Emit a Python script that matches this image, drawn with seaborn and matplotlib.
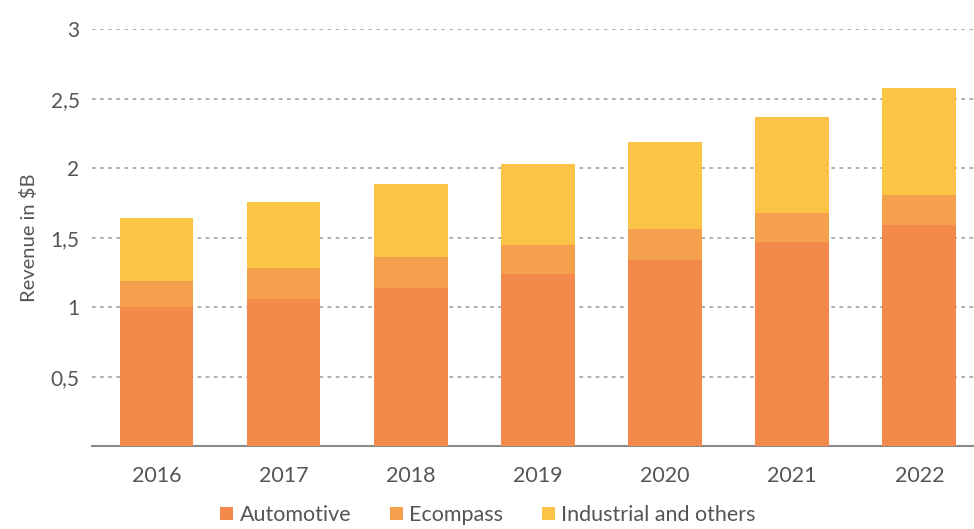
import pandas as pd
import numpy as np
import matplotlib.pyplot as plt
import seaborn as sns
from matplotlib.patches import Patch

# Revenue in $B
years = ["2016", "2017", "2018", "2019", "2020", "2021", "2022"]
automotive = [1.00, 1.06, 1.14, 1.24, 1.34, 1.47, 1.59]
ecompass = [0.19, 0.22, 0.22, 0.21, 0.22, 0.21, 0.22]
industrial = [0.45, 0.48, 0.53, 0.58, 0.63, 0.69, 0.77]

series_names = ["Automotive", "Ecompass", "Industrial and others"]
colors = ["#F3894A", "#F5A04C", "#FBC447"]
ytick_values = [0.5, 1, 1.5, 2, 2.5, 3]
ytick_labels = ["0,5", "1", "1,5", "2", "2,5", "3"]

df = pd.DataFrame({
    "Year": years,
    "Automotive": automotive,
    "Ecompass": ecompass,
    "Industrial and others": industrial,
})

sns.set_style("white")
plt.rcParams["font.family"] = ["Lato", "DejaVu Sans"]
text_color = "#555555"

fig = plt.figure(figsize=(9.74, 5.29), dpi=100)
ax = fig.add_axes([0.0945, 0.156, 0.9055, 0.789])

# stacked bars
bottom = np.zeros(len(years))
for name, color in zip(series_names, colors):
    sns.barplot(data=df, x="Year", y=name, color=color, width=0.58,
                bottom=bottom, ax=ax, saturation=1, linewidth=0, zorder=3)
    bottom = bottom + df[name].values

ax.set_ylim(0, 3)
ax.set_xlim(-0.506, 6.43)
ax.set_yticks(ytick_values)
ax.set_yticklabels(ytick_labels)
ax.yaxis.grid(True, linestyle=(0, (2, 2.5)), color="#a8a8a8", linewidth=1.3, zorder=0)
ax.set_axisbelow(True)

for side in ["top", "right", "left"]:
    ax.spines[side].set_visible(False)
ax.spines["bottom"].set_color("#8a8a8a")
ax.spines["bottom"].set_linewidth(1.5)

ax.tick_params(axis="x", length=0, pad=14, labelsize=15.5, labelcolor=text_color)
ax.tick_params(axis="y", length=0, pad=9, labelsize=15, labelcolor=text_color)
ax.set_xlabel("")
ax.set_ylabel("Revenue in $B", fontsize=14.5, color=text_color, labelpad=9)

handles = [Patch(facecolor=c, edgecolor="none") for c in colors]
fig.legend(handles, series_names, loc="center", bbox_to_anchor=(0.501, 0.026),
           ncol=3, frameon=False, fontsize=15.5, handlelength=0.6, handleheight=0.6,
           handletextpad=0.3, columnspacing=1.8, labelcolor=text_color)

fig.savefig("out.png", dpi=100)
